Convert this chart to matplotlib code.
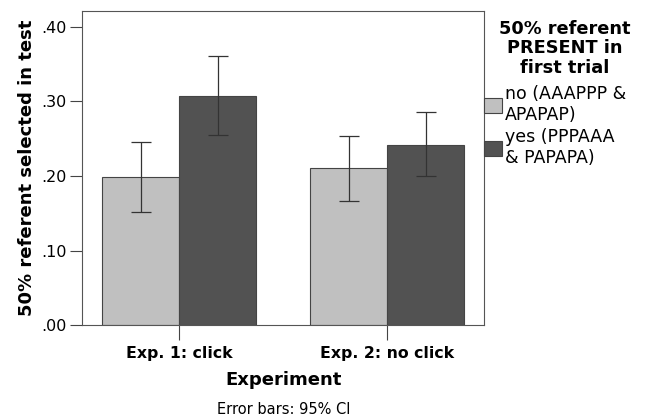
import matplotlib.pyplot as plt
import numpy as np

experiments = ["Exp. 1: click", "Exp. 2: no click"]
groups = ["no (AAAPPP &\nAPAPAP)", "yes (PPPAAA\n& PAPAPA)"]
means = [[0.198, 0.210], [0.307, 0.242]]
ci_low = [[0.152, 0.167], [0.255, 0.200]]
ci_high = [[0.245, 0.253], [0.360, 0.285]]
colors = ["#c0c0c0", "#525252"]
yticks = [0.0, 0.1, 0.2, 0.3, 0.4]
ytick_labels = [".00", ".10", ".20", ".30", ".40"]
legend_title = "50% referent\nPRESENT in\nfirst trial"

fig = plt.figure(figsize=(6.52, 4.18), dpi=100)
ax = fig.add_axes([0.1258, 0.2218, 0.6170, 0.7519])

x = np.arange(len(experiments))
width = 0.37
for i, (g, c) in enumerate(zip(groups, colors)):
    pos = x + (i - 0.5) * width
    m = np.array(means[i])
    err = [m - np.array(ci_low[i]), np.array(ci_high[i]) - m]
    ax.bar(pos, m, width, color=c, edgecolor="#444444", linewidth=0.8, label=g)
    ax.errorbar(pos, m, yerr=err, fmt="none", ecolor="#333333",
                elinewidth=0.9, capsize=7, capthick=0.9)

ax.set_xlim(-0.466, 1.466)
ax.set_ylim(0, 0.4208)
ax.set_xticks(x)
ax.set_xticklabels(experiments, fontsize=11.3, fontweight="bold")
ax.set_yticks(yticks)
ax.set_yticklabels(ytick_labels, fontsize=11.5)
ax.tick_params(axis="y", length=9, width=0.8, color="#444444", pad=2)
ax.tick_params(axis="x", length=11, width=0.8, color="#444444", pad=4)
for s in ax.spines.values():
    s.set_color("#555555")
    s.set_linewidth(0.8)

ax.set_ylabel("50% referent selected in test", fontsize=13, fontweight="bold",
              labelpad=4)
ax.set_xlabel("Experiment", fontsize=13, fontweight="bold", labelpad=7)

# legend title drawn separately so the gap to the entries can be matched
fig.text(0.866, 0.953, legend_title, ha="center", va="top", fontsize=12.8,
         fontweight="bold", multialignment="center", linespacing=1.13)
leg = ax.legend(loc="upper left", bbox_to_anchor=(1.0, 0.765), frameon=False,
                fontsize=12.5, handlelength=1.04, handleheight=0.98,
                handletextpad=0.15, borderaxespad=0, labelspacing=0.25,
                borderpad=0)
for h in leg.legend_handles:
    h.set_edgecolor("#444444")

fig.text(0.4356, 0.021, "Error bars: 95% CI", ha="center", va="center",
         fontsize=10.5)

fig.savefig("out.png", dpi=100)
